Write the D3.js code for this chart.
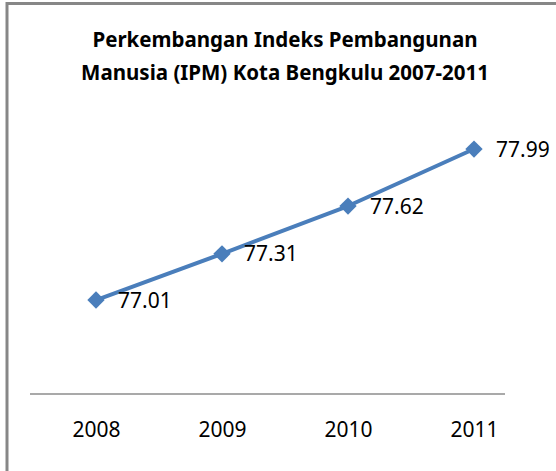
<!DOCTYPE html>
<html>
<head>
<meta charset="utf-8">
<script src="https://cdn.jsdelivr.net/npm/d3@7"></script>
<style>
  body { margin: 0; background: #fff; }
  text { font-family: "Noto Sans", sans-serif; fill: #000; }
</style>
</head>
<body>
<svg id="chart" width="556" height="471"></svg>
<script>
"use strict";

const years = ["2008", "2009", "2010", "2011"];
const ipm = [77.01, 77.31, 77.62, 77.99];
const titleLines = [
  "Perkembangan Indeks Pembangunan",
  "Manusia (IPM) Kota Bengkulu 2007-2011"
];

const width = 556,
  height = 471;
const svg = d3.select("#chart");

// chart frame (cut off at right and bottom like the reference)
svg.append("rect")
  .attr("x", 7)
  .attr("y", 3.5)
  .attr("width", 620)
  .attr("height", 540)
  .attr("fill", "#fff")
  .attr("stroke", "#878787")
  .attr("stroke-width", 3);

// title
svg.append("g")
  .selectAll("text")
  .data(titleLines)
  .enter()
  .append("text")
  .attr("x", 285)
  .attr("y", (d, i) => 47 + i * 33)
  .attr("text-anchor", "middle")
  .attr("font-weight", "bold")
  .attr("font-size", "20.5px")
  .text((d) => d);

let x = d3.scalePoint().domain(years).range([96, 474]);
let y = d3.scaleLinear().domain([76.4, 78.0]).range([394, 147.5]);

let data = years.map((d, i) => ({ year: d, value: ipm[i] }));

// x axis
let xAxis = svg.append("g")
  .attr("transform", "translate(0," + y(76.4) + ")")
  .call(d3.axisBottom(x).tickSize(0).tickPadding(30));
xAxis.select(".domain").remove();
xAxis.append("line")
  .attr("x1", 30)
  .attr("x2", 505)
  .attr("stroke", "#8c8c8c")
  .attr("stroke-width", 1.5);
xAxis.selectAll(".tick text")
  .attr("font-family", "Noto Sans, sans-serif")
  .attr("font-size", "21px")
  .attr("fill", "#000")
  .attr("dy", "0.6em");

// line
let line = d3.line()
  .x((d) => x(d.year))
  .y((d) => y(d.value));

svg.append("path")
  .datum(data)
  .attr("fill", "none")
  .attr("stroke", "#4a7ebb")
  .attr("stroke-width", 4)
  .attr("stroke-linejoin", "round")
  .attr("d", line);

// diamond markers
svg.append("g")
  .selectAll("path")
  .data(data)
  .enter()
  .append("path")
  .attr("d", d3.symbol(d3.symbolSquare, 150))
  .attr("transform", (d) => "translate(" + x(d.year) + "," + y(d.value) + ") rotate(45)")
  .attr("fill", "#4a7ebb");

// value labels
svg.append("g")
  .selectAll("text")
  .data(data)
  .enter()
  .append("text")
  .attr("x", (d) => x(d.year) + 22)
  .attr("y", (d) => y(d.value))
  .attr("dy", "0.36em")
  .attr("font-size", "21px")
  .text((d) => d.value.toFixed(2));
</script>
</body>
</html>
